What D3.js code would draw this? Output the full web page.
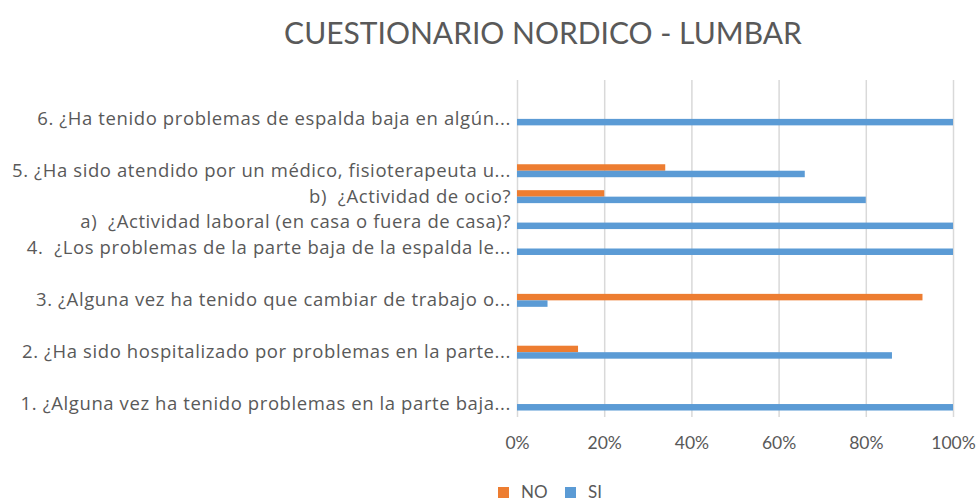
<!DOCTYPE html>
<meta charset="utf-8">
<head>
  <title>Cuestionario Nordico - Lumbar</title>
  <style>
  body { margin: 0; background: #fff; }
  .grid line { stroke: #d9d9d9; stroke-width: 1.5px; }
  .grid path { display: none; }
  .axis text { fill: #595959; font-family: "Open Sans", sans-serif; white-space: pre; }
  .axis path, .axis line { display: none; }
  </style>
</head>
<html>
  <body>
    <svg width="978" height="504"></svg>
  </body>
</html>
<script src="https://d3js.org/d3.v7.min.js"></script>
<script>
// top to bottom, null = empty row in the source sheet
var categories = [
  null,
  "6. ¿Ha tenido problemas de espalda baja en algún...",
  null,
  "5. ¿Ha sido atendido por un médico, fisioterapeuta u...",
  "b)  ¿Actividad de ocio?",
  "a)  ¿Actividad laboral (en casa o fuera de casa)?",
  "4.  ¿Los problemas de la parte baja de la espalda le...",
  null,
  "3. ¿Alguna vez ha tenido que cambiar de trabajo o...",
  null,
  "2. ¿Ha sido hospitalizado por problemas en la parte...",
  null,
  "1. ¿Alguna vez ha tenido problemas en la parte baja..."
];
var noValues = [null, 0, null, 0.34, 0.20, 0, 0, null, 0.93, null, 0.14, null, 0];
var siValues = [null, 1.00, null, 0.66, 0.80, 1.00, 1.00, null, 0.07, null, 0.86, null, 1.00];
var seriesNames = ["NO", "SI"];
var colors = {NO: "#ED7D31", SI: "#5B9BD5"};
var xTicks = [0, 0.2, 0.4, 0.6, 0.8, 1];

var svg = d3.select("svg"),
    margin = {top: 80, right: 25, bottom: 87, left: 517},
    width = +svg.attr("width") - margin.left - margin.right,
    height = +svg.attr("height") - margin.top - margin.bottom,
    g = svg.append("g").attr("transform", "translate(" + margin.left + "," + margin.top + ")");

var x = d3.scaleLinear().domain([0, 1]).range([0, width]);

var y = d3.scaleBand()
    .domain(d3.range(categories.length))
    .range([0, height])
    .padding(0);

var ySeries = d3.scaleBand()
    .domain(seriesNames)
    .range([0, y.bandwidth()])
    .paddingInner(0)
    .paddingOuter(1);

svg.append("text")
    .attr("x", 543)
    .attr("y", 44)
    .attr("text-anchor", "middle")
    .attr("fill", "#595959")
    .style("font-family", "Lato, 'Open Sans', sans-serif")
    .style("font-size", "30px")
    .text("CUESTIONARIO NORDICO - LUMBAR");

// gridlines
g.append("g")
    .attr("class", "grid")
    .call(d3.axisBottom(x).tickValues(xTicks).tickSize(height).tickFormat(""));

// x tick labels
g.append("g")
    .attr("class", "axis")
    .attr("transform", "translate(0," + height + ")")
    .call(d3.axisBottom(x).tickValues(xTicks).tickSize(0).tickPadding(20).tickFormat(d3.format(".0%")))
    .selectAll("text")
    .style("font-family", "Lato, sans-serif")
    .style("font-size", "17.5px");

// category labels
g.append("g")
    .attr("class", "axis")
    .call(d3.axisLeft(y).tickSize(0).tickPadding(6).tickFormat(function(i) { return categories[i] || ""; }))
    .selectAll("text")
    .style("font-size", "18.5px")
    .style("letter-spacing", "0.6px");

var rows = categories.map(function(c, i) {
  return {i: i, NO: noValues[i], SI: siValues[i]};
}).filter(function(d) { return categories[d.i] !== null; });

var row = g.selectAll(".row")
    .data(rows)
  .enter().append("g")
    .attr("class", "row")
    .attr("transform", function(d) { return "translate(0," + y(d.i) + ")"; });

row.selectAll("rect")
    .data(function(d) { return seriesNames.map(function(s) { return {key: s, value: d[s]}; }); })
  .enter().append("rect")
    .attr("x", x(0))
    .attr("y", function(d) { return ySeries(d.key); })
    .attr("height", ySeries.bandwidth())
    .attr("width", function(d) { return x(d.value) - x(0); })
    .attr("fill", function(d) { return colors[d.key]; });

// legend (moved up a little so it is not clipped)
var legend = svg.append("g")
    .attr("transform", "translate(498,486)");

var item = legend.selectAll("g")
    .data(seriesNames)
  .enter().append("g")
    .attr("transform", function(d, i) { return "translate(" + (i * 67) + ",0)"; });

item.append("rect")
    .attr("y", 1)
    .attr("width", 11)
    .attr("height", 11)
    .attr("fill", function(d) { return colors[d]; });

item.append("text")
    .attr("x", 23)
    .attr("y", 12)
    .attr("fill", "#595959")
    .style("font-family", "Lato, 'Open Sans', sans-serif")
    .style("font-size", "17px")
    .text(function(d) { return d; });
</script>
